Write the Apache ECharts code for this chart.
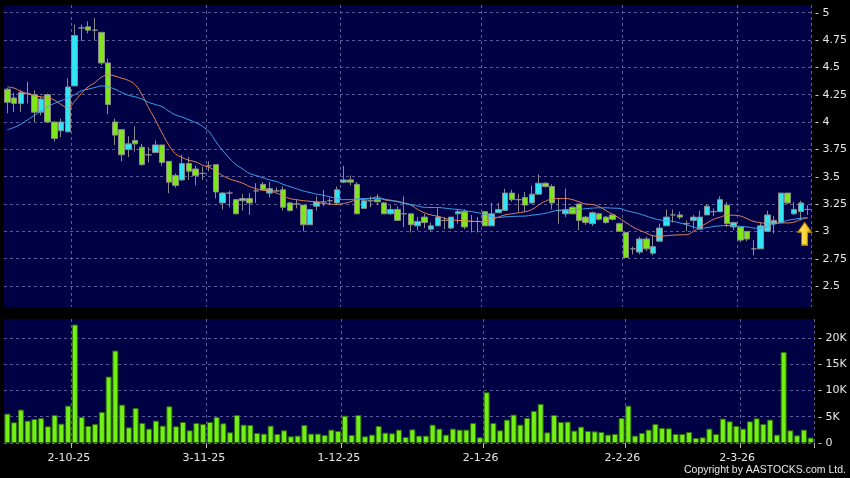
<!DOCTYPE html>
<html>
<head>
<meta charset="utf-8">
<script src="https://cdn.jsdelivr.net/npm/echarts@6/dist/echarts.min.js"></script>
<style>
  html, body { margin: 0; padding: 0; background: #000; }
  #main { width: 850px; height: 478px; }
</style>
</head>
<body>
<div id="main"></div>
<script>
  // daily prices, one per HK trading day from 17-9-25
  var opens = [4.30,4.22,4.17,4.26,4.25,4.09,4.25,4.00,3.92,3.91, 4.33,4.86,4.87,4.84,4.82,4.54,4.00,3.93,3.75,3.83,
    3.77,3.70,3.72,3.79,3.64,3.51,3.47,3.62,3.57,3.53, 3.60,3.61,3.26,3.35,3.29,3.28,3.30,3.37,3.43,3.35,
    3.37,3.38,3.26,3.25,3.24,3.06,3.23,3.27,3.28,3.26, 3.45,3.47,3.43,3.21,3.28,3.29,3.26,3.16,3.20,3.16,
    3.16,3.05,3.13,3.02,3.05,3.10,3.03,3.16,3.18,3.09, 3.09,3.18,3.05,3.17,3.19,3.35,3.29,3.31,3.26,3.34,
    3.44,3.41,3.19,3.16,3.22,3.25,3.13,3.07,3.16,3.13, 3.15,3.07,2.99,2.84,2.81,2.93,2.80,2.91,3.05,3.15,
    3.15,3.07,3.10,3.02,3.15,3.18,3.18,3.24,3.04,3.04, 3.00,2.84,2.84,3.00,3.07,3.08,3.35,3.16,3.18,3.20];
  var closes = [4.18,4.17,4.27,4.26,4.09,4.21,4.00,3.85,4.00,4.32, 4.79,4.86,4.84,4.84,4.54,4.16,3.88,3.70,3.80,3.80,
    3.61,3.70,3.79,3.63,3.45,3.42,3.62,3.55,3.51,3.53, 3.60,3.36,3.35,3.35,3.16,3.30,3.26,3.37,3.38,3.39,
    3.37,3.22,3.19,3.25,3.06,3.20,3.27,3.27,3.28,3.38, 3.47,3.45,3.16,3.28,3.28,3.27,3.16,3.20,3.10,3.16,
    3.06,3.09,3.08,3.05,3.13,3.10,3.13,3.18,3.04,3.09, 3.09,3.05,3.16,3.20,3.35,3.29,3.29,3.24,3.34,3.44,
    3.41,3.26,3.19,3.20,3.16,3.10,3.08,3.17,3.11,3.08, 3.11,3.00,2.76,2.84,2.93,2.84,2.86,3.03,3.13,3.15,
    3.13,3.07,3.13,3.13,3.23,3.18,3.29,3.07,3.08,2.92, 2.93,2.84,3.05,3.15,3.10,3.35,3.26,3.20,3.26,3.20];
  var lows = [4.08,4.09,4.09,4.17,4.00,4.06,3.99,3.82,3.86,3.91, 4.33,4.74,4.81,4.75,4.52,4.07,3.79,3.64,3.68,3.73,
    3.60,3.63,3.72,3.60,3.35,3.40,3.46,3.47,3.42,3.47, 3.55,3.30,3.20,3.22,3.16,3.19,3.15,3.26,3.38,3.31,
    3.36,3.19,3.18,3.21,3.00,3.06,3.19,3.23,3.24,3.24, 3.44,3.42,3.16,3.21,3.22,3.24,3.16,3.15,3.10,3.04,
    2.99,3.01,3.03,3.00,3.05,3.02,3.02,3.07,3.02,2.99, 2.99,3.05,3.05,3.17,3.19,3.27,3.18,3.18,3.25,3.34,
    3.40,3.20,3.07,3.13,3.16,3.01,3.06,3.05,3.10,3.07, 3.10,3.00,2.76,2.79,2.79,2.82,2.78,2.91,3.05,3.08,
    3.11,3.00,3.02,3.02,3.15,3.14,3.18,3.04,3.01,2.90, 2.91,2.78,2.84,3.00,2.98,3.08,3.25,3.15,3.10,3.15];
  var highs = [4.31,4.27,4.29,4.37,4.29,4.23,4.26,4.00,4.03,4.40, 4.89,4.89,4.92,4.95,4.82,4.58,4.03,3.93,3.87,3.96,
    3.80,3.77,3.83,3.79,3.64,3.53,3.70,3.68,3.60,3.59, 3.64,3.61,3.36,3.37,3.29,3.34,3.35,3.44,3.45,3.45,
    3.40,3.41,3.27,3.29,3.24,3.20,3.32,3.38,3.31,3.41, 3.60,3.51,3.45,3.28,3.32,3.34,3.27,3.24,3.23,3.32,
    3.16,3.13,3.16,3.08,3.21,3.13,3.13,3.20,3.20,3.15, 3.13,3.18,3.26,3.26,3.39,3.38,3.34,3.36,3.42,3.52,
    3.45,3.43,3.30,3.39,3.23,3.25,3.14,3.18,3.17,3.14, 3.16,3.08,2.99,2.86,2.95,2.95,2.96,3.07,3.20,3.20,
    3.18,3.10,3.15,3.19,3.25,3.21,3.32,3.27,3.09,3.04, 3.00,2.92,3.08,3.19,3.14,3.35,3.35,3.27,3.28,3.24];
  var volumes = [5590,3940,6350,4250,4570,4760,3175,5330,3680,7110, 22540,4950,3240,3620,5900,12640,17590,7300,2980,6670,
    3810,2730,4250,3300,6985,3175,4000,2410,3810,3620, 4000,4950,3750,2030,5330,3490,3430,1905,1780,3300,
    1715,2410,1270,1400,3430,1780,1780,1525,2540,2290, 5200,1525,5330,1270,1590,3240,1970,1840,2540,1140,
    2600,1400,1400,3490,2730,1590,2730,2540,2540,3810, 1080,9650,3810,2410,4445,5400,3490,4760,6100,7430,
    2030,5330,4000,4060,2350,3110,2290,2220,2100,1590, 1715,4760,7110,1400,1905,2540,3620,2860,2790,1715,
    1715,2100,950,1080,2730,1715,4640,4130,3240,2730, 4130,4700,3620,4450,1590,17340,2410,1460,2540,1020];
  // moving averages as drawn on the chart
  var ma10 = [4.32,4.31,4.28,4.26,4.24,4.23,4.22,4.20,4.16,4.13, 4.19,4.26,4.32,4.36,4.41,4.43,4.42,4.40,4.38,4.34,
    4.25,4.13,4.02,3.90,3.79,3.71,3.675,3.65,3.635,3.605, 3.585,3.55,3.51,3.48,3.46,3.44,3.41,3.39,3.375,3.37,
    3.35,3.325,3.30,3.29,3.28,3.275,3.265,3.255,3.25,3.246, 3.255,3.27,3.29,3.293,3.30,3.315,3.29,3.28,3.275,3.26,
    3.24,3.20,3.17,3.15,3.138,3.12,3.105,3.10,3.097,3.093, 3.09,3.093,3.11,3.13,3.15,3.16,3.17,3.18,3.20,3.24,
    3.275,3.295,3.30,3.30,3.29,3.27,3.25,3.245,3.225,3.19, 3.155,3.12,3.08,3.04,3.01,2.985,2.96,2.955,2.96,2.965,
    2.968,2.97,3.00,3.04,3.075,3.11,3.13,3.147,3.147,3.14, 3.115,3.09,3.08,3.07,3.075,3.077,3.077,3.085,3.11,3.12];
  var ma20 = [3.93,3.95,3.98,4.02,4.06,4.10,4.14,4.17,4.195,4.22, 4.25,4.285,4.30,4.315,4.33,4.32,4.30,4.27,4.245,4.23,
    4.21,4.18,4.16,4.14,4.10,4.065,4.045,4.02,3.995,3.96, 3.91,3.82,3.74,3.67,3.61,3.57,3.53,3.51,3.49,3.47,
    3.455,3.43,3.41,3.39,3.37,3.355,3.34,3.33,3.315,3.30, 3.29,3.29,3.297,3.30,3.30,3.30,3.295,3.285,3.27,3.255,
    3.245,3.232,3.22,3.218,3.218,3.212,3.205,3.20,3.19,3.18, 3.17,3.155,3.135,3.127,3.132,3.136,3.138,3.14,3.148,3.155,
    3.165,3.18,3.193,3.193,3.197,3.20,3.207,3.212,3.215,3.215, 3.212,3.21,3.19,3.175,3.16,3.14,3.12,3.105,3.097,3.09,
    3.077,3.06,3.04,3.03,3.033,3.045,3.05,3.053,3.053,3.045, 3.04,3.03,3.027,3.045,3.065,3.08,3.10,3.11,3.12,3.127];

  var priceTicks = [2.5, 2.75, 3, 3.25, 3.5, 3.75, 4, 4.25, 4.5, 4.75, 5];
  var volumeTicks = [0, 5000, 10000, 15000, 20000];
  var holidays = ['2025-10-01', '2025-10-07', '2025-10-29', '2025-12-25', '2025-12-26',
    '2026-01-01', '2026-02-17', '2026-02-18', '2026-02-19'];

  // trading days -> 'd-m-yy' labels
  var dates = [];
  var monthStart = [];
  var d = new Date(Date.UTC(2025, 8, 17));
  var lastMonth = -1;
  while (dates.length < closes.length) {
    var wd = d.getUTCDay();
    var iso = d.toISOString().slice(0, 10);
    if (wd !== 0 && wd !== 6 && holidays.indexOf(iso) < 0) {
      dates.push(d.getUTCDate() + '-' + (d.getUTCMonth() + 1) + '-' + String(d.getUTCFullYear()).slice(2));
      monthStart.push(lastMonth !== -1 && d.getUTCMonth() !== lastMonth);
      lastMonth = d.getUTCMonth();
    }
    d.setUTCDate(d.getUTCDate() + 1);
  }
  function isMonthStart(idx) { return monthStart[idx]; }

  var candles = opens.map(function (o, i) { return [o, closes[i], lows[i], highs[i]]; });

  var gridLine = { show: true, lineStyle: { color: '#5c5c9c', type: [3, 3], width: 1 } };
  var labelFont = { color: '#e6e6e6', fontSize: 11, fontFamily: 'DejaVu Sans' };

  var myChart = echarts.init(document.getElementById('main'));
  var option = {
    backgroundColor: '#000',
    animation: false,
    grid: [
      { left: 4, top: 5, width: 810, height: 302, show: true, backgroundColor: '#000044', borderWidth: 0 },
      { left: 4, top: 319, width: 810, height: 124, show: true, backgroundColor: '#000044', borderWidth: 0 }
    ],
    xAxis: [
      {
        type: 'category', gridIndex: 0, data: dates, boundaryGap: true,
        axisLine: { show: false }, axisTick: { show: false }, axisLabel: { show: false },
        splitLine: Object.assign({ interval: isMonthStart }, gridLine)
      },
      {
        type: 'category', gridIndex: 1, data: dates, boundaryGap: true,
        axisLine: { show: false },
        axisTick: { show: true, interval: isMonthStart, length: 5, lineStyle: { color: '#bbbbbb' } },
        axisLabel: Object.assign({ interval: isMonthStart, margin: 10, fontSize: 12, padding: [0, 12, 0, 0] }, labelFont),
        splitLine: Object.assign({ interval: isMonthStart }, gridLine)
      }
    ],
    yAxis: [
      {
        type: 'value', gridIndex: 0, position: 'right', min: 2.308, max: 5.07, scale: true,
        axisLine: { show: false },
        axisTick: { show: false, customValues: priceTicks },
        axisLabel: Object.assign({
          customValues: priceTicks, margin: 4,
          formatter: function (v) { return '- ' + v; }
        }, labelFont),
        splitLine: gridLine
      },
      {
        type: 'value', gridIndex: 1, position: 'right', min: 0, max: 23600,
        axisLine: { show: false },
        axisTick: { show: false, customValues: volumeTicks },
        axisLabel: Object.assign({
          customValues: volumeTicks, margin: 4,
          formatter: function (v) { return '- ' + (v === 0 ? '0' : (v / 1000) + 'K'); }
        }, labelFont),
        splitLine: gridLine
      }
    ],
    graphic: [{
      type: 'text', right: 4, bottom: 2,
      style: { text: 'Copyright by AASTOCKS.com Ltd.', fill: '#e6e6e6', font: '10.5px "Liberation Sans"' }
    }],
    series: [
      {
        type: 'candlestick', xAxisIndex: 0, yAxisIndex: 0, data: candles, barWidth: 6,
        itemStyle: {
          color: '#30e4f2', color0: '#7ee61a',
          borderColor: '#8c8c8c', borderColor0: '#8c8c8c', borderColorDoji: '#8c8c8c', borderWidth: 1
        },
        markPoint: {
          symbol: 'path://M7,0 L14,10 L10,10 L10,23 L4,23 L4,10 L0,10 Z',
          symbolSize: [14, 23],
          symbolOffset: [-3, 0],
          label: { show: false },
          itemStyle: {
            color: new echarts.graphic.LinearGradient(0, 0, 1, 0, [
              { offset: 0, color: '#fff27a' }, { offset: 1, color: '#f0b400' }
            ]),
            borderColor: '#b07800', borderWidth: 1
          },
          data: [{ coord: [closes.length - 1, 2.978] }]
        }
      },
      {
        name: 'MA10', type: 'line', xAxisIndex: 0, yAxisIndex: 0, data: ma10, symbol: 'none', smooth: true,
        lineStyle: { color: '#e8875a', width: 1 }, z: 3
      },
      {
        name: 'MA20', type: 'line', xAxisIndex: 0, yAxisIndex: 0, data: ma20, symbol: 'none', smooth: true,
        lineStyle: { color: '#3ca6f0', width: 1 }, z: 3
      },
      {
        type: 'bar', xAxisIndex: 1, yAxisIndex: 1, data: volumes, barWidth: 6,
        itemStyle: { color: '#72f016', borderColor: '#2f6e08', borderWidth: 1 }
      }
    ]
  };
  myChart.setOption(option);
</script>
</body>
</html>
